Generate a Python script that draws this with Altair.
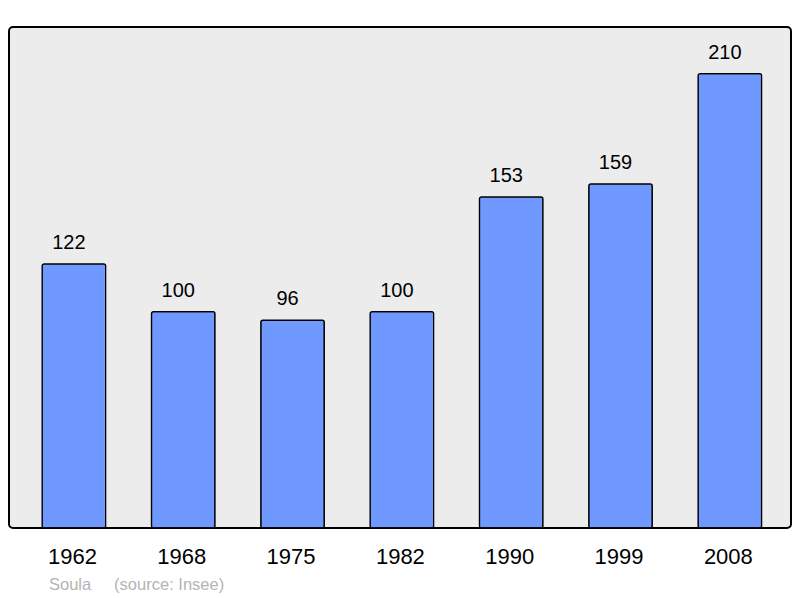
import altair as alt
import pandas as pd

years = ["1962", "1968", "1975", "1982", "1990", "1999", "2008"]
population = [122, 100, 96, 100, 153, 159, 210]
footer_text = ["Soula\u00a0\u00a0\u00a0\u00a0\u00a0(source: Insee)"]

df = pd.DataFrame({"year": years, "pop": population})

FONT = "Liberation Sans"

x = alt.X(
    "year:N",
    sort=years,
    scale=alt.Scale(paddingInner=0.419, paddingOuter=0.286, align=0.53),
    axis=alt.Axis(
        title=None,
        labelAngle=0,
        labelFontSize=22,
        labelFont=FONT,
        labelColor="black",
        ticks=False,
        tickSize=0,
        domain=False,
        labelBaseline="alphabetic",
        labelPadding=35,
        labelOffset=-1.5,
    ),
)
y = alt.Y("pop:Q", scale=alt.Scale(domain=[0, 231.5], nice=False, zero=True), axis=None)

bars = alt.Chart(df).mark_bar(
    color="#7099ff", stroke="black", strokeWidth=1.3, cornerRadius=2
).encode(x=x, y=y)

labels = alt.Chart(df).mark_text(
    dx=-5, dy=-15, baseline="alphabetic", fontSize=20, font=FONT, color="black"
).encode(x=alt.X("year:N", sort=years), y="pop:Q", text="pop:Q")

footer = alt.Chart(pd.DataFrame({"t": footer_text})).mark_text(
    align="left", baseline="alphabetic", fontSize=16.5, font=FONT, color="#b4b4b4"
).encode(text="t:N", x=alt.value(40), y=alt.value(563))

chart = alt.layer(bars, labels, footer).properties(
    width=782,
    height=501,
    autosize=alt.AutoSizeParams(type="none"),
    padding={"left": 1, "top": 19, "right": 1, "bottom": 70},
).configure_view(
    fill="#ececec", stroke="black", strokeWidth=2, cornerRadius=4
)

chart.save("out.html", embed_options={"renderer": "svg", "actions": False})
